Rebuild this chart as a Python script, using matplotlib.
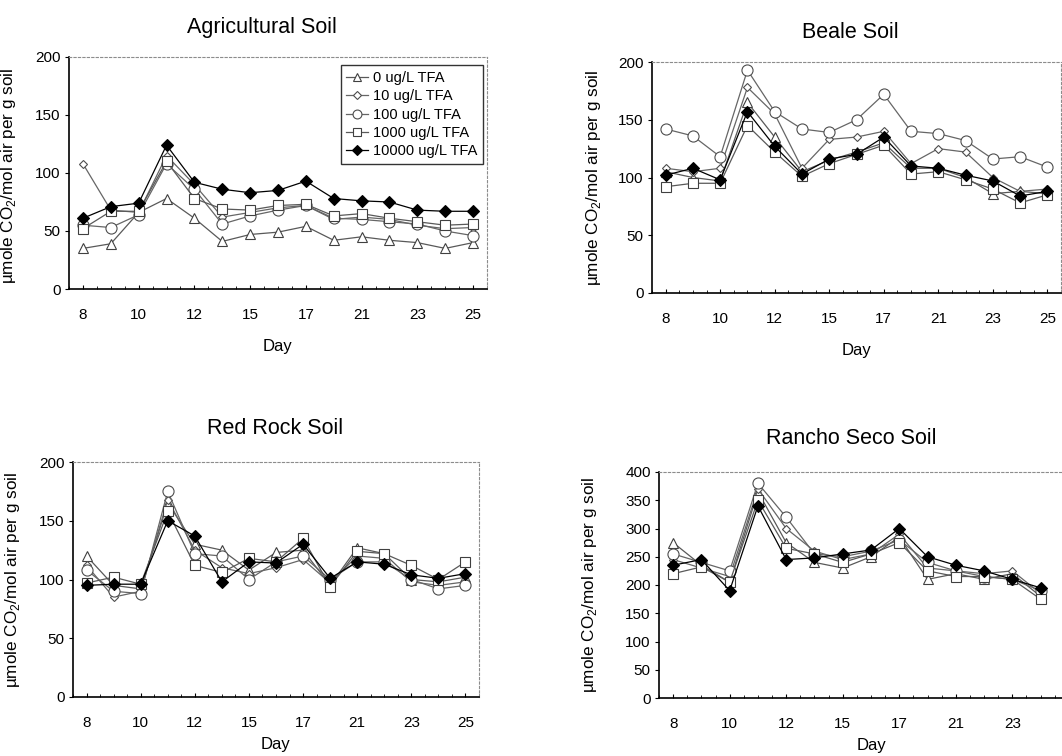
import matplotlib
matplotlib.use("Agg")
import matplotlib.pyplot as plt
from matplotlib import font_manager
import numpy as np

names = {f.name for f in font_manager.fontManager.ttflist}
FONT = 'Liberation Sans Narrow' if 'Liberation Sans Narrow' in names else 'Liberation Sans'
plt.rcParams['font.family'] = [FONT, 'DejaVu Sans']
plt.rcParams['mathtext.fontset'] = 'custom'
plt.rcParams['mathtext.rm'] = FONT

# ---- data ----
day_labels = ['8', '10', '12', '15', '17', '21', '23', '25']
series_labels = ['0 ug/L TFA', '10 ug/L TFA', '100 ug/L TFA', '1000 ug/L TFA', '10000 ug/L TFA']

agri_0     = [35, 39, 66, 78, 61, 41, 47, 49, 54, 42, 45, 42, 40, 35, 40]
agri_10    = [108, 68, 66, 115, 90, 62, 66, 70, 72, 60, 62, 60, 55, 52, 53]
agri_100   = [55, 53, 64, 108, 86, 56, 63, 68, 72, 61, 60, 58, 56, 50, 46]
agri_1000  = [52, 67, 67, 110, 78, 69, 68, 72, 73, 63, 65, 61, 58, 55, 56]
agri_10000 = [61, 71, 74, 124, 92, 86, 83, 85, 93, 78, 76, 75, 68, 67, 67]

beale_0     = [105, 100, 97, 165, 135, 105, 115, 122, 130, 108, 108, 100, 86, 88, 86]
beale_10    = [108, 105, 108, 178, 155, 108, 133, 135, 140, 112, 125, 122, 100, 88, 90]
beale_100   = [142, 136, 118, 193, 157, 142, 139, 150, 172, 140, 138, 132, 116, 118, 109]
beale_1000  = [92, 95, 95, 145, 122, 101, 112, 120, 128, 103, 105, 98, 90, 78, 85]
beale_10000 = [102, 108, 98, 157, 127, 103, 116, 120, 135, 110, 108, 102, 97, 84, 88]

red_0     = [120, 95, 92, 165, 130, 125, 108, 123, 125, 95, 127, 122, 100, 98, 102]
red_10    = [112, 85, 90, 168, 125, 110, 105, 110, 117, 97, 120, 118, 98, 95, 98]
red_100   = [108, 90, 88, 175, 122, 120, 100, 115, 120, 100, 115, 115, 100, 92, 95]
red_1000  = [97, 102, 96, 158, 112, 106, 118, 115, 135, 94, 124, 122, 112, 100, 115]
red_10000 = [95, 96, 96, 150, 137, 98, 115, 114, 130, 101, 115, 113, 104, 101, 105]

rancho_0     = [275, 235, 205, 365, 275, 240, 230, 250, 285, 210, 220, 210, 220, 180]
rancho_10    = [245, 230, 215, 370, 300, 260, 245, 255, 290, 230, 225, 220, 225, 185]
rancho_100   = [255, 240, 225, 380, 320, 255, 250, 260, 280, 240, 225, 215, 210, 190]
rancho_1000  = [220, 232, 205, 350, 265, 255, 240, 255, 275, 225, 215, 215, 210, 175]
rancho_10000 = [235, 245, 190, 340, 245, 248, 255, 262, 300, 250, 235, 225, 210, 195]

# ---- styles ----
styles = [
    dict(marker='^', ms=7, mfc='white', mec='0.25', color='0.35'),
    dict(marker='D', ms=4.5, mfc='white', mec='0.3', color='0.4'),
    dict(marker='o', ms=8, mfc='white', mec='0.3', color='0.4'),
    dict(marker='s', ms=7, mfc='white', mec='0.25', color='0.35'),
    dict(marker='D', ms=6, mfc='black', mec='black', color='black'),
]

W, H = 1062, 756
fig = plt.figure(figsize=(W / 100, H / 100), dpi=100)


def add_ax(left, top, right, bottom):
    return fig.add_axes([left / W, 1 - bottom / H, (right - left) / W, (bottom - top) / H])


def panel(ax, data, title, ymax, ystep, title_xy, ylab_xy, xlabpad, nlab=8):
    for vals, st, lab in zip(data, styles, series_labels):
        x = np.arange(len(vals))
        ax.plot(x, vals, lw=0.9, mew=0.8, label=lab, **st)
    ax.set_xlim(-0.5, 14.5)
    ax.set_ylim(0, ymax)
    ax.set_yticks(np.arange(0, ymax + 1, ystep))
    ax.set_xticks(np.arange(0, 2 * nlab, 2))
    ax.set_xticklabels(day_labels[:nlab])
    ax.set_xticks(np.arange(-0.5, 14.6, 0.5), minor=True)
    ax.tick_params(axis='x', which='major', direction='in', length=3, pad=14, labelsize=11)
    ax.tick_params(axis='x', which='minor', direction='in', length=2)
    ax.tick_params(axis='y', which='major', direction='out', length=3, pad=3, labelsize=11)
    for s in ('left', 'bottom'):
        ax.spines[s].set_linewidth(1.2)
        ax.spines[s].set_color('black')
    for s in ('top', 'right'):
        ax.spines[s].set_linestyle((0, (2, 2)))
        ax.spines[s].set_color('0.55')
        ax.spines[s].set_linewidth(0.8)
    ax.set_xlabel('Day', fontsize=12, labelpad=xlabpad)
    ax.set_ylabel('µmole CO$_2$/mol air per g soil', fontsize=12.3)
    ax.yaxis.set_label_coords(ylab_xy[0] / W, 1 - ylab_xy[1] / H, transform=fig.transFigure)
    fig.text(title_xy[0] / W, 1 - title_xy[1] / H, title, fontsize=15.5,
             ha='center', va='center')


ax1 = add_ax(69, 57, 487, 289)
panel(ax1, [agri_0, agri_10, agri_100, agri_1000, agri_10000], 'Agricultural Soil',
      200, 50, (262, 27), (18, 176), 12)
leg = ax1.legend(loc='upper right', bbox_to_anchor=(0.99, 0.965), borderaxespad=0,
                 fontsize=10.5, frameon=True, fancybox=False, handlelength=1.5,
                 handletextpad=0.3, labelspacing=0.3, borderpad=0.4, markerscale=0.8)
leg.get_frame().set_edgecolor('black')
leg.get_frame().set_linewidth(1.0)

ax2 = add_ax(652, 62, 1061, 293)
panel(ax2, [beale_0, beale_10, beale_100, beale_1000, beale_10000], 'Beale Soil',
      200, 50, (850, 33), (603, 178), 12)

ax3 = add_ax(73, 462, 479, 697)
panel(ax3, [red_0, red_10, red_100, red_1000, red_10000], 'Red Rock Soil',
      200, 50, (275, 428), (22, 580), 5)

ax4 = add_ax(659, 472, 1083, 698)
panel(ax4, [rancho_0, rancho_10, rancho_100, rancho_1000, rancho_10000], 'Rancho Seco Soil',
      400, 50, (851, 438), (599, 585), 5, nlab=7)

fig.savefig('out.png', dpi=100)
